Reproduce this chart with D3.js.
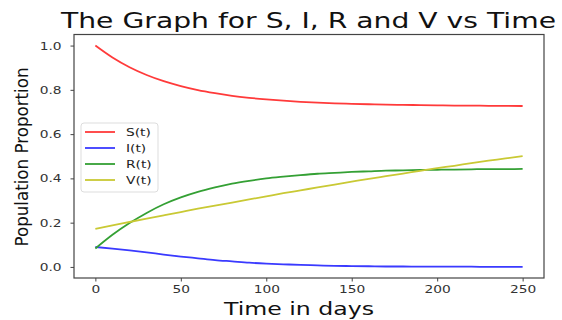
<!DOCTYPE html>
<html>
<head>
<meta charset="utf-8">
<script src="https://cdn.jsdelivr.net/npm/d3@7"></script>
<style>
    html, body { margin: 0; padding: 0; background: #fff; }
    svg { display: block; font-family: "DejaVu Sans", sans-serif; }
</style>
</head>
<body>
<div id="chart"></div>
<script>
// ── SIRV time series ──

const days = [0, 10, 20, 30, 40, 50, 60, 70, 80, 90, 100, 110, 120, 130, 140, 150,
              160, 170, 180, 190, 200, 210, 220, 230, 240, 250];

const sValues = [1.000, 0.946, 0.902, 0.867, 0.839, 0.817, 0.799, 0.785, 0.773, 0.764,
                 0.757, 0.751, 0.746, 0.742, 0.739, 0.737, 0.735, 0.733, 0.732, 0.731,
                 0.730, 0.729, 0.729, 0.728, 0.728, 0.727];
const iValues = [0.090, 0.083, 0.075, 0.066, 0.056, 0.047, 0.039, 0.031, 0.025, 0.019,
                 0.015, 0.012, 0.009, 0.007, 0.005, 0.004, 0.003, 0.002, 0.002, 0.001,
                 0.001, 0.001, 0.001, 0.000, 0.000, 0.000];
const rValues = [0.083, 0.145, 0.198, 0.244, 0.283, 0.314, 0.339, 0.359, 0.376, 0.389,
                 0.400, 0.408, 0.415, 0.421, 0.425, 0.429, 0.432, 0.435, 0.436, 0.438,
                 0.439, 0.440, 0.441, 0.442, 0.442, 0.443];
const vValues = [0.172, 0.188, 0.203, 0.218, 0.233, 0.248, 0.263, 0.277, 0.291, 0.305,
                 0.319, 0.333, 0.346, 0.359, 0.372, 0.385, 0.398, 0.410, 0.422, 0.434,
                 0.446, 0.457, 0.469, 0.480, 0.490, 0.501];

const seriesNames = ['S(t)', 'I(t)', 'R(t)', 'V(t)'];
const seriesColors = ['#ff3a3a', '#3a3aff', '#34a034', '#c9c934'];

const xTicks = [0, 50, 100, 150, 200, 250];
const yTicks = [0.0, 0.2, 0.4, 0.6, 0.8, 1.0];

const width = 562, height = 320;
const plot = { left: 74, right: 544, top: 34.5, bottom: 278 };
const stretch = 1.25;   // the picture's text is a bit wider than plain DejaVu

const svg = d3.select('#chart')
    .append('svg')
    .attr('width', width)
    .attr('height', height);

const x = d3.scaleLinear().domain([-12.5, 262.5]).range([plot.left, plot.right]);
const y = d3.scaleLinear().domain([-0.05, 1.05]).range([plot.bottom, plot.top]);

// Lines
const allValues = [sValues, iValues, rValues, vValues];
const line = d3.line()
    .x((d, i) => x(days[i]))
    .y(d => y(d))
    .curve(d3.curveMonotoneX);

const lines = svg.append('g');
allValues.forEach((vals, k) => {
    lines.append('path')
        .datum(vals)
        .attr('d', line)
        .attr('fill', 'none')
        .attr('stroke', seriesColors[k])
        .attr('stroke-width', 1.8);
});

// Axes
const xAxis = svg.append('g')
    .attr('transform', `translate(0,${plot.bottom})`)
    .call(d3.axisBottom(x).tickValues(xTicks).tickSize(3.5).tickPadding(4).tickFormat(d3.format('d')));
const yAxis = svg.append('g')
    .attr('transform', `translate(${plot.left},0)`)
    .call(d3.axisLeft(y).tickValues(yTicks).tickSize(3.5).tickPadding(9).tickFormat(d3.format('.1f')));

[xAxis, yAxis].forEach(a => {
    a.select('.domain').remove();
    a.selectAll('line').attr('stroke', '#444');
    a.selectAll('text')
        .attr('fill', '#333')
        .style('font-size', '11px')
        .style('font-family', '"DejaVu Sans", sans-serif');
});
// widen tick labels around their own anchor
xAxis.selectAll('text').attr('transform', `scale(${stretch},1)`);
yAxis.selectAll('text').each(function () {
    const t = d3.select(this);
    const px = +t.attr('x');
    t.attr('transform', `translate(${px},0) scale(${stretch},1)`).attr('x', 0);
});

// Frame
svg.append('rect')
    .attr('x', plot.left)
    .attr('y', plot.top)
    .attr('width', plot.right - plot.left)
    .attr('height', plot.bottom - plot.top)
    .attr('fill', 'none')
    .attr('stroke', '#444')
    .attr('stroke-width', 1.2);

// Titles
svg.append('text')
    .attr('x', 61)
    .attr('y', 28)
    .attr('fill', '#111')
    .attr('textLength', 495)
    .attr('lengthAdjust', 'spacingAndGlyphs')
    .style('font-size', '21px')
    .text('The Graph for S, I, R and V vs Time');

svg.append('text')
    .attr('x', 224)
    .attr('y', 315)
    .attr('fill', '#111')
    .attr('textLength', 150)
    .attr('lengthAdjust', 'spacingAndGlyphs')
    .style('font-size', '17px')
    .text('Time in days');

svg.append('text')
    .attr('transform', 'translate(28,157) rotate(-90)')
    .attr('text-anchor', 'middle')
    .attr('fill', '#111')
    .attr('textLength', 179)
    .attr('lengthAdjust', 'spacingAndGlyphs')
    .style('font-size', '18px')
    .text('Population Proportion');

// Legend
const legend = svg.append('g').attr('transform', 'translate(81,123)');
legend.append('rect')
    .attr('width', 77)
    .attr('height', 69)
    .attr('rx', 3)
    .attr('fill', '#fff')
    .attr('fill-opacity', 0.85)
    .attr('stroke', '#ddd');

seriesNames.forEach((name, k) => {
    const row = legend.append('g').attr('transform', `translate(0,${9 + k * 16})`);
    row.append('line')
        .attr('x1', 4).attr('x2', 34)
        .attr('stroke', seriesColors[k])
        .attr('stroke-width', 1.8);
    row.append('text')
        .attr('transform', `translate(45,0) scale(${stretch},1)`)
        .attr('dy', '0.35em')
        .attr('fill', '#222')
        .style('font-size', '11px')
        .text(name);
});
</script>
</body>
</html>
